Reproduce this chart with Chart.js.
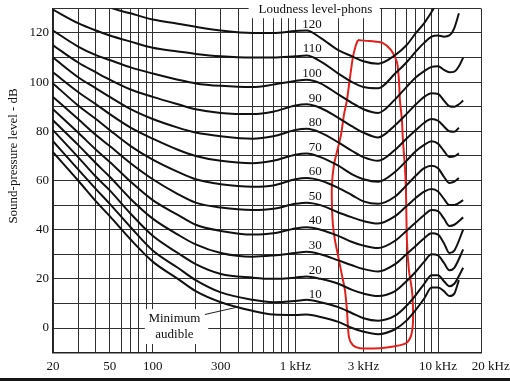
<!DOCTYPE html>
<html><head><meta charset="utf-8">
<script src="https://cdn.jsdelivr.net/npm/chart.js@4/dist/chart.umd.min.js"></script>
<style>html,body{margin:0;padding:0;background:#fff;}canvas{display:block;}</style>
</head><body>
<canvas id="c" width="510" height="381"></canvas>
<script>
// ---- data (frequency in Hz, sound-pressure level in dB) ----
const freqs = [20,30,40,50,70,100,150,200,300,500,700,1000,1200,1500,2000,2500,3000,3800,5000,6000,7000,8000,9000,10000,11000,12000,13000,14000,15000];
const phon120 = [null,null,134.5,130.5,128,125.5,123.8,122.5,121,120,120,120.8,121,118,113,110.5,108.5,107.5,111,115,120,124,128.5,133,null,null,null,null,null];
const phon110 = [129.5,124,121,119,116.5,114,112.5,111.5,110.5,110,110,110.5,110.8,108.5,103.5,100,98,97.5,103.5,108,112.5,116,118.5,119,118.5,119,122,128,null];
const phon100 = [121,114.5,111,109,106,103.5,101,99.5,98.5,98,99,100.5,101,99.5,95,91.5,89,87.5,93,98,102,104.5,106.2,106.5,105,104,104.3,106.5,110];
const phon90  = [115,108,104,101,97,94,91,89,87.5,87,88,90.5,91,89.5,85.5,82,79.5,77.5,82.5,87,91,94,95.5,95.2,92.5,90.2,90,91,92.5];
const phon80  = [110,102,97.5,94,89,85,81.5,79.5,78,77,78,80.5,81,79.5,75.5,72,69.5,68,72.5,77,80.5,83.5,85,84.3,82,80,79.8,81.5,null];
const phon70  = [104,96,91,87,81.5,77,72.5,70,68,67,68,70.5,71,69.5,66,62.5,60.5,59.5,63.5,68,72,74.5,76,75,72,69.6,69.8,71,null];
const phon60  = [99.5,90.5,85,80.5,74,68.5,63.5,60.5,58.5,57.5,58,60.5,61,60,57,54,51.5,50.5,53.5,58,62,65,66,65,61.5,59,59.5,61,null];
const phon50  = [94,85,78.5,74,67,60.5,54.5,51,49,48,48.5,50.5,51,50,47,45,43.5,42.5,45.5,49.5,53,55.5,56.5,55.5,52.5,50,50,null,52];
const phon40  = [89,79.5,72.5,67.5,59.5,52,46,42,39.5,38,38.5,40.5,41,40,37.5,35,33.5,32.5,35.5,39.5,43,46,48,47.5,44.5,41.5,42,null,45];
const phon30  = [84.5,74.5,67,61.5,52.5,44.5,38,34,30.5,29,29.5,30.5,31,30,27.5,25.5,24,23,26,30,33.5,36.5,38.5,38,34.5,30.5,31.5,null,40];
const phon20  = [80.5,69.5,61.5,56,46.5,37.5,30.5,26,22,20.5,20,20.5,21,20,18,15.5,14,13,15,19,23,27,30,29.5,26.5,23.5,24.5,null,32];
const phon10  = [76,64.5,56.5,50.5,41,31.5,24.5,19.5,14.5,11.5,10.5,11,11.5,10.5,8.5,6,4,3,5,9,13.5,18,21.5,21.5,19,17,18,null,24.5];
const minimumAudible = [71.5,60,51.5,45.5,36,27,20,15,10.5,7,5.5,5.3,5.5,4.5,2.5,0,-1.5,-2.5,-0.5,3,7.5,12,16.5,16.5,15,13,14,19.5,null];
const phonLevels = [120,110,100,90,80,70,60,50,40,30,20,10];

// hand-drawn red outline (Hz, dB)
const outlineFreqs = [2744,3330,4107,4673,5148,5317,5403,5581,5671,5858,5953,6050,6249,6559,6666,6666,6454,5953,4984,3913,2834,2531,2373,2298,2225,2120,1987,1893,1833,1804,1804,1863,1955,2086,2189,2298,2412,2531,2657,2744];
const outlineDb    = [117.1,116.7,115.9,113.1,108.2,100.9,92.7,84.6,76.5,65.5,56.2,35.8,23.5,15.4,9.3,2.0,-3.3,-6.2,-7.4,-8.2,-8.2,-7.0,-3.7,7.3,15.4,21.5,29.7,35.8,41.9,50.0,58.2,66.3,71.6,78.5,86.6,92.7,101.7,110.2,115.1,117.1];

// axis ticks
const xGridValues = [20,30,40,50,60,70,80,90,100,200,300,400,500,600,700,800,900,1000,2000,3000,4000,5000,6000,7000,8000,9000,10000,20000];
const xTickValues = [20,50,100,300,1000,3000,10000,20000];
const xTickLabels = ['20','50','100','300','1 kHz','3 kHz','10 kHz','\u2002\u2002\u200220 kHz'];
const yTickValues = [0,20,40,60,80,100,120];

const SERIF = '"Liberation Serif","DejaVu Serif",serif';

function toPoints(xs, ys){ const out=[]; for(let i=0;i<xs.length;i++){ if(ys[i]!==null) out.push({x:xs[i], y:ys[i]}); } return out; }

const curves = [phon120,phon110,phon100,phon90,phon80,phon70,phon60,phon50,phon40,phon30,phon20,phon10,minimumAudible];
const datasets = curves.map(v => ({
  data: toPoints(freqs, v), showLine: true, borderColor: '#111', borderWidth: 2,
  pointRadius: 0, fill: false, cubicInterpolationMode: 'monotone'
}));
datasets.push({ data: toPoints(outlineFreqs, outlineDb), showLine: true, borderColor: '#e3201c',
  borderWidth: 2, pointRadius: 0, fill: false, tension: 0.25 });

const annot = {
  id: 'annot',
  beforeDraw(chart){
    const c = chart.ctx; c.save();
    c.fillStyle = '#fff'; c.fillRect(0,0,chart.width,chart.height);
    c.fillStyle = '#151515'; c.fillRect(0,378,chart.width,3);
    c.restore();
  },
  beforeDatasetsDraw(chart){
    const c = chart.ctx, xs = chart.scales.x, ys = chart.scales.y;
    c.save(); c.fillStyle = '#fff';
    // gap in the frame for the top caption
    c.fillRect(xs.getPixelForValue(470), 0, xs.getPixelForValue(3900) - xs.getPixelForValue(470), ys.getPixelForValue(126));
    // box behind "Minimum audible"
    const bx0 = xs.getPixelForValue(88), bx1 = xs.getPixelForValue(245);
    const by0 = ys.getPixelForValue(7.7), by1 = ys.getPixelForValue(-6.5);
    c.fillRect(bx0, by0, bx1 - bx0, by1 - by0);
    c.restore();
  },
  afterDatasetsDraw(chart){
    const c = chart.ctx, xs = chart.scales.x, ys = chart.scales.y;
    c.save();
    c.fillStyle = '#111';
    c.font = '13px ' + SERIF;
    c.textBaseline = 'middle';
    // caption
    c.textAlign = 'center';
    c.fillText('Loudness level-phons', xs.getPixelForValue(1380), ys.getPixelForValue(129.5));
    // phon labels
    c.textAlign = 'right';
    const lx = xs.getPixelForValue(1530);
    phonLevels.forEach(p => c.fillText(String(p), lx, ys.getPixelForValue(p + 3.5)));
    // minimum audible
    c.textAlign = 'center';
    const mx = xs.getPixelForValue(142);
    c.fillText('Minimum', mx, ys.getPixelForValue(4));
    c.fillText('audible', mx, ys.getPixelForValue(-2.5));
    c.strokeStyle = '#222'; c.lineWidth = 1;
    c.beginPath();
    c.moveTo(xs.getPixelForValue(232), ys.getPixelForValue(5.5));
    c.lineTo(xs.getPixelForValue(400), ys.getPixelForValue(8.6));
    c.stroke();
    // y axis title
    c.translate(14, ys.getPixelForValue(70));
    c.rotate(-Math.PI/2);
    c.textAlign = 'center';
    c.fillText('Sound-pressure level - dB', 0, 0);
    c.restore();
  }
};

new Chart(document.getElementById('c'), {
  type: 'scatter',
  data: { datasets },
  plugins: [annot],
  options: {
    responsive: false, animation: false, devicePixelRatio: 1,
    layout: { padding: { top: 8.4, right: 29, bottom: 0, left: 0 } },
    plugins: { legend: { display: false }, tooltip: { enabled: false } },
    scales: {
      x: {
        type: 'logarithmic', min: 20, max: 20000,
        afterBuildTicks(s){ s.ticks = xGridValues.map(v => ({ value: v })); },
        afterFit(s){ s.height = 28.4; s.paddingLeft = 0; s.paddingRight = 0; },
        grid: { color: '#303030', lineWidth: 1, drawTicks: false },
        border: { color: '#222', width: 1.5 },
        ticks: {
          autoSkip: false, maxRotation: 0, minRotation: 0, padding: 6, color: '#111',
          font: { family: SERIF, size: 13 },
          callback(v){ const i = xTickValues.indexOf(v); return i >= 0 ? xTickLabels[i] : ''; }
        }
      },
      y: {
        type: 'linear', min: -10, max: 130,
        afterFit(s){ s.width = 53; s.paddingTop = 0; s.paddingBottom = 0; },
        grid: { color: '#303030', lineWidth: 1, drawTicks: false },
        border: { color: '#222', width: 1.5 },
        ticks: {
          stepSize: 10, padding: 4, color: '#111', autoSkip: false,
          font: { family: SERIF, size: 13 },
          callback(v){ return yTickValues.includes(v) ? String(v) : ''; }
        }
      }
    }
  }
});
</script>
</body></html>
